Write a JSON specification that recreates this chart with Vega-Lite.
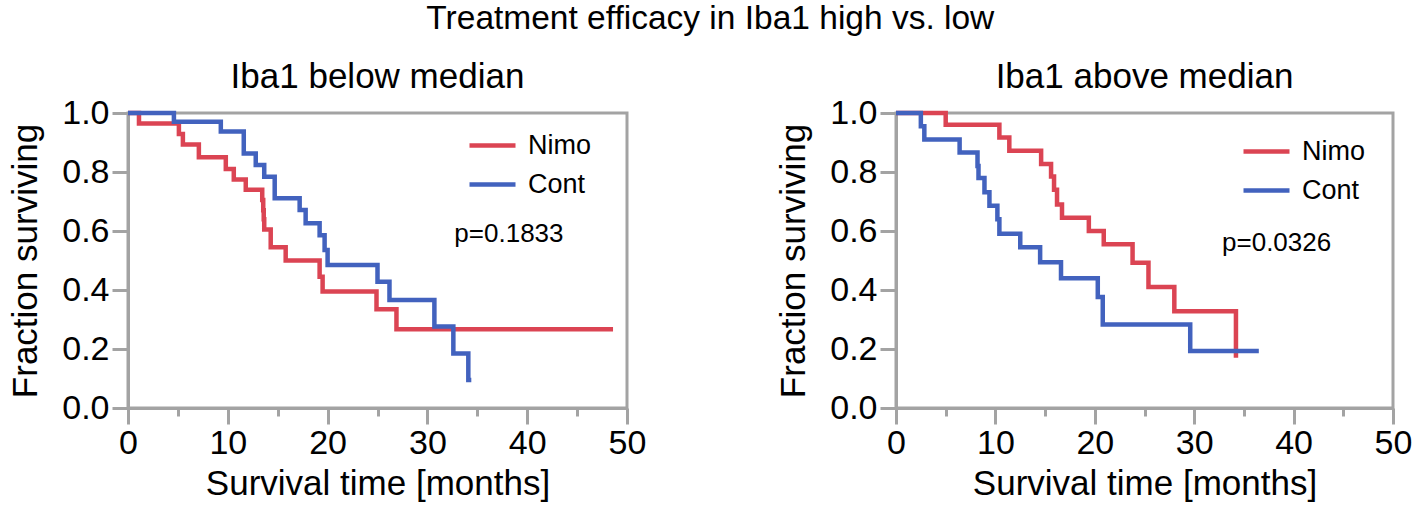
{
  "$schema": "https://vega.github.io/schema/vega-lite/v6.json",
  "background": "white",
  "padding": {"left": 7, "top": 2, "right": 2, "bottom": 4},
  "title": {"text": "Treatment efficacy in Iba1 high vs. low", "fontSize": 33.5, "font": "Liberation Sans", "fontWeight": "normal", "color": "black", "anchor": "middle", "offset": 22},
  "config": {
    "font": "Liberation Sans",
    "view": {"stroke": "#a3a3a3", "strokeWidth": 3},
    "axis": {"grid": false, "domainColor": "#a3a3a3", "domainWidth": 3, "tickColor": "#a3a3a3", "tickWidth": 3, "labelColor": "black", "titleColor": "black", "labelFont": "Liberation Sans", "titleFont": "Liberation Sans", "titleFontWeight": "normal", "labelFontSize": 34, "titleFontSize": 35, "labelOverlap": false, "labelFlush": false},
    "legend": {"labelFont": "Liberation Sans"}
  },
  "datasets": {
    "km": [
      {"panel": "below", "group": "Nimo", "t": 0, "s": 1.0},
      {"panel": "below", "group": "Nimo", "t": 1.1, "s": 0.964},
      {"panel": "below", "group": "Nimo", "t": 5.1, "s": 0.929},
      {"panel": "below", "group": "Nimo", "t": 5.5, "s": 0.893},
      {"panel": "below", "group": "Nimo", "t": 7.1, "s": 0.85},
      {"panel": "below", "group": "Nimo", "t": 9.8, "s": 0.81},
      {"panel": "below", "group": "Nimo", "t": 10.6, "s": 0.775},
      {"panel": "below", "group": "Nimo", "t": 11.8, "s": 0.74},
      {"panel": "below", "group": "Nimo", "t": 13.45, "s": 0.705},
      {"panel": "below", "group": "Nimo", "t": 13.55, "s": 0.67},
      {"panel": "below", "group": "Nimo", "t": 13.6, "s": 0.64},
      {"panel": "below", "group": "Nimo", "t": 13.65, "s": 0.605},
      {"panel": "below", "group": "Nimo", "t": 14.3, "s": 0.545},
      {"panel": "below", "group": "Nimo", "t": 15.8, "s": 0.5},
      {"panel": "below", "group": "Nimo", "t": 19.2, "s": 0.445},
      {"panel": "below", "group": "Nimo", "t": 19.5, "s": 0.395},
      {"panel": "below", "group": "Nimo", "t": 24.9, "s": 0.335},
      {"panel": "below", "group": "Nimo", "t": 26.9, "s": 0.267},
      {"panel": "below", "group": "Nimo", "t": 48.6, "s": 0.267},
      {"panel": "below", "group": "Cont", "t": 0, "s": 1.0},
      {"panel": "below", "group": "Cont", "t": 4.6, "s": 0.97},
      {"panel": "below", "group": "Cont", "t": 9.3, "s": 0.937},
      {"panel": "below", "group": "Cont", "t": 11.6, "s": 0.863},
      {"panel": "below", "group": "Cont", "t": 12.8, "s": 0.824},
      {"panel": "below", "group": "Cont", "t": 13.65, "s": 0.784},
      {"panel": "below", "group": "Cont", "t": 14.7, "s": 0.711},
      {"panel": "below", "group": "Cont", "t": 17.2, "s": 0.671},
      {"panel": "below", "group": "Cont", "t": 17.8, "s": 0.626},
      {"panel": "below", "group": "Cont", "t": 19.2, "s": 0.586},
      {"panel": "below", "group": "Cont", "t": 19.7, "s": 0.536},
      {"panel": "below", "group": "Cont", "t": 20.0, "s": 0.485},
      {"panel": "below", "group": "Cont", "t": 25.0, "s": 0.428},
      {"panel": "below", "group": "Cont", "t": 26.2, "s": 0.366},
      {"panel": "below", "group": "Cont", "t": 30.7, "s": 0.276},
      {"panel": "below", "group": "Cont", "t": 32.6, "s": 0.185},
      {"panel": "below", "group": "Cont", "t": 34.1, "s": 0.095},
      {"panel": "below", "group": "Cont", "t": 34.4, "s": 0.095},
      {"panel": "above", "group": "Nimo", "t": 0, "s": 1.0},
      {"panel": "above", "group": "Nimo", "t": 5.0, "s": 0.96},
      {"panel": "above", "group": "Nimo", "t": 10.4, "s": 0.917},
      {"panel": "above", "group": "Nimo", "t": 11.4, "s": 0.872},
      {"panel": "above", "group": "Nimo", "t": 14.6, "s": 0.827},
      {"panel": "above", "group": "Nimo", "t": 15.6, "s": 0.785},
      {"panel": "above", "group": "Nimo", "t": 15.9, "s": 0.74},
      {"panel": "above", "group": "Nimo", "t": 16.2, "s": 0.69},
      {"panel": "above", "group": "Nimo", "t": 16.7, "s": 0.645},
      {"panel": "above", "group": "Nimo", "t": 19.4, "s": 0.6},
      {"panel": "above", "group": "Nimo", "t": 20.9, "s": 0.555},
      {"panel": "above", "group": "Nimo", "t": 23.8, "s": 0.492},
      {"panel": "above", "group": "Nimo", "t": 25.4, "s": 0.41},
      {"panel": "above", "group": "Nimo", "t": 28.0, "s": 0.328},
      {"panel": "above", "group": "Nimo", "t": 34.2, "s": 0.17},
      {"panel": "above", "group": "Cont", "t": 0, "s": 1.0},
      {"panel": "above", "group": "Cont", "t": 2.5, "s": 0.955},
      {"panel": "above", "group": "Cont", "t": 2.85, "s": 0.91},
      {"panel": "above", "group": "Cont", "t": 6.4, "s": 0.866},
      {"panel": "above", "group": "Cont", "t": 8.2, "s": 0.82},
      {"panel": "above", "group": "Cont", "t": 8.3, "s": 0.78},
      {"panel": "above", "group": "Cont", "t": 8.9, "s": 0.731},
      {"panel": "above", "group": "Cont", "t": 9.4, "s": 0.686},
      {"panel": "above", "group": "Cont", "t": 10.2, "s": 0.64},
      {"panel": "above", "group": "Cont", "t": 10.4, "s": 0.591},
      {"panel": "above", "group": "Cont", "t": 12.5, "s": 0.545},
      {"panel": "above", "group": "Cont", "t": 14.5, "s": 0.494},
      {"panel": "above", "group": "Cont", "t": 16.6, "s": 0.44},
      {"panel": "above", "group": "Cont", "t": 20.3, "s": 0.376},
      {"panel": "above", "group": "Cont", "t": 20.8, "s": 0.283},
      {"panel": "above", "group": "Cont", "t": 29.6, "s": 0.193},
      {"panel": "above", "group": "Cont", "t": 36.5, "s": 0.193}
    ],
    "pvals": [
      {"panel": "below", "label": "p=0.1833"},
      {"panel": "above", "label": "p=0.0326"}
    ]
  },
  "spacing": 127,
  "resolve": {"legend": {"color": "independent"}},
  "hconcat": [
    {
      "width": 499,
      "height": 295,
      "title": {"text": "Iba1 below median", "fontSize": 35, "fontWeight": "normal", "color": "black", "anchor": "middle", "frame": "group", "offset": 1},
      "layer": [
        {
          "data": {"name": "km"},
          "transform": [{"filter": "datum.panel === 'below'"}],
          "mark": {"type": "line", "interpolate": "step-after", "strokeWidth": 4.5},
          "encoding": {
            "x": {"field": "t", "type": "quantitative", "scale": {"domain": [0, 50], "nice": false},
              "axis": {"title": "Survival time [months]", "values": [0, 5, 10, 15, 20, 25, 30, 35, 40, 45, 50], "labelExpr": "datum.value % 10 === 0 ? datum.label : ''", "tickSize": {"condition": {"test": "datum.value % 10 === 0", "value": 16}, "value": 8}, "labelPadding": 2, "titlePadding": 6}},
            "y": {"field": "s", "type": "quantitative", "scale": {"domain": [0, 1], "nice": false},
              "axis": {"title": "Fraction surviving", "values": [0, 0.1, 0.2, 0.3, 0.4, 0.5, 0.6, 0.7, 0.8, 0.9, 1.0], "format": ".1f", "labelExpr": "round(datum.value * 10) % 2 === 0 ? datum.label : ''", "tickSize": {"condition": {"test": "round(datum.value * 10) % 2 === 0", "value": 16}, "value": 8}, "labelPadding": 3, "titlePadding": 18}},
            "color": {"field": "group", "type": "nominal", "scale": {"domain": ["Nimo", "Cont"], "range": ["#db4453", "#4262be"]},
              "legend": {"orient": "none", "legendX": 339, "legendY": 7, "title": null, "symbolType": "stroke", "symbolStrokeWidth": 4.5, "symbolSize": 2116, "labelFontSize": 27, "labelOffset": 10, "rowPadding": -13, "padding": 0}}
          }
        },
        {
          "data": {"name": "pvals"},
          "transform": [{"filter": "datum.panel === 'below'"}],
          "mark": {"type": "text", "align": "left", "baseline": "middle", "fontSize": 26, "font": "Liberation Sans", "color": "black"},
          "encoding": {
            "x": {"datum": 32.7},
            "y": {"datum": 0.59},
            "text": {"field": "label"}
          }
        }
      ]
    },
    {
      "width": 497,
      "height": 295,
      "title": {"text": "Iba1 above median", "fontSize": 35, "fontWeight": "normal", "color": "black", "anchor": "middle", "frame": "group", "offset": 1},
      "layer": [
        {
          "data": {"name": "km"},
          "transform": [{"filter": "datum.panel === 'above'"}],
          "mark": {"type": "line", "interpolate": "step-after", "strokeWidth": 4.5},
          "encoding": {
            "x": {"field": "t", "type": "quantitative", "scale": {"domain": [0, 50], "nice": false},
              "axis": {"title": "Survival time [months]", "values": [0, 5, 10, 15, 20, 25, 30, 35, 40, 45, 50], "labelExpr": "datum.value % 10 === 0 ? datum.label : ''", "tickSize": {"condition": {"test": "datum.value % 10 === 0", "value": 16}, "value": 8}, "labelPadding": 2, "titlePadding": 6}},
            "y": {"field": "s", "type": "quantitative", "scale": {"domain": [0, 1], "nice": false},
              "axis": {"title": "Fraction surviving", "values": [0, 0.1, 0.2, 0.3, 0.4, 0.5, 0.6, 0.7, 0.8, 0.9, 1.0], "format": ".1f", "labelExpr": "round(datum.value * 10) % 2 === 0 ? datum.label : ''", "tickSize": {"condition": {"test": "round(datum.value * 10) % 2 === 0", "value": 16}, "value": 8}, "labelPadding": 3, "titlePadding": 18}},
            "color": {"field": "group", "type": "nominal", "scale": {"domain": ["Nimo", "Cont"], "range": ["#db4453", "#4262be"]},
              "legend": {"orient": "none", "legendX": 345, "legendY": 13, "title": null, "symbolType": "stroke", "symbolStrokeWidth": 4.5, "symbolSize": 2116, "labelFontSize": 27, "labelOffset": 10, "rowPadding": -14, "padding": 0}}
          }
        },
        {
          "data": {"name": "pvals"},
          "transform": [{"filter": "datum.panel === 'above'"}],
          "mark": {"type": "text", "align": "left", "baseline": "middle", "fontSize": 26, "font": "Liberation Sans", "color": "black"},
          "encoding": {
            "x": {"datum": 32.8},
            "y": {"datum": 0.56},
            "text": {"field": "label"}
          }
        }
      ]
    }
  ]
}
